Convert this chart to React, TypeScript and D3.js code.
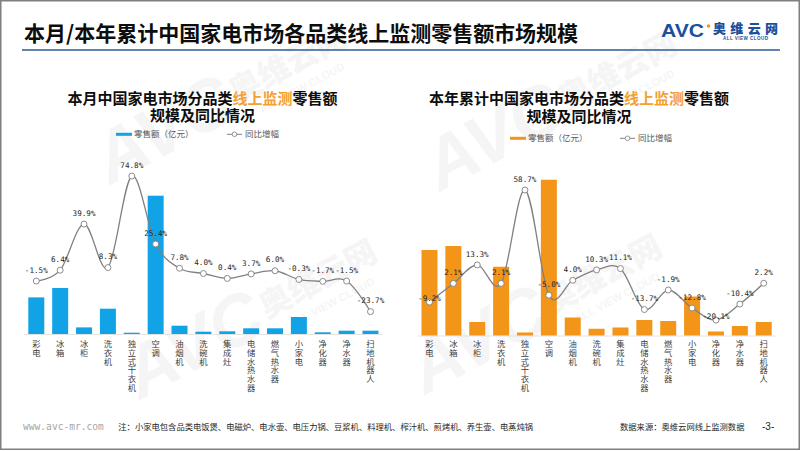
import React from 'react';
import * as d3 from 'd3';

const categories = ['彩电', '冰箱', '冰柜', '洗衣机', '独立式干衣机', '空调', '油烟机', '洗碗机', '集成灶', '电储水热水器', '燃气热水器', '小家电', '净化器', '净水器', '扫地机器人'];
// 本月零售额（亿元）
const monthSales = [36.6, 46.0, 6.6, 25.3, 1.3, 138.3, 8.3, 2.3, 2.7, 5.7, 5.7, 17.0, 1.7, 3.3, 3.3];
// 本月同比增幅（%）
const monthYoY = [-1.5, 6.4, 39.9, 8.3, 74.8, 25.4, 7.8, 4.0, 0.4, 3.7, 6.0, -0.3, -1.7, -1.5, -23.7];
// 本年累计零售额（亿元）
const yearSales = [342, 358, 54, 275, 12, 623, 72, 27, 32, 62, 58, 156, 16, 38, 54];
// 本年累计同比增幅（%）
const yearYoY = [-9.2, 2.1, 13.3, 2.1, 58.7, -5.0, 4.0, 10.3, 11.1, -13.7, -1.9, -12.8, -20.1, -10.4, 2.2];

const CJK = '"Noto Sans CJK SC", "Noto Sans", sans-serif';
const MONO = '"DejaVu Sans Mono", monospace';

type ChartCfg = {
  titlePre: string;
  titleHi: string;
  titlePost: string;
  title2: string;
  titleX: number;
  title1Y: number;
  title2Y: number;
  legendX: number;
  legendLineX: number;
  legendY: number;
  bandRange: [number, number];
  baseline: number;
  salesMax: number;
  salesPx: number;
  yoyDomain: [number, number];
  yoyRange: [number, number];
  color: string;
  sales: number[];
  yoy: number[];
  labelLift: Record<number, number>;
};

function Chart({ cfg }: { cfg: ChartCfg }) {
  const x = d3.scaleBand<string>().domain(categories).range(cfg.bandRange).paddingInner(0.33).paddingOuter(0.165);
  const yBar = d3.scaleLinear().domain([0, cfg.salesMax]).range([cfg.baseline, cfg.baseline - cfg.salesPx]);
  const yLine = d3.scaleLinear().domain(cfg.yoyDomain).range(cfg.yoyRange);
  const cx = (c: string) => (x(c) as number) + x.bandwidth() / 2;
  const pts: [number, number][] = categories.map((c, i) => [cx(c), yLine(cfg.yoy[i])]);
  const line = d3.line().curve(d3.curveCardinal.tension(0))(pts) || '';
  const lineColor = '#808080';
  return (
    <g>
      <text x={cfg.titleX} y={cfg.title1Y} textAnchor="middle" fontFamily={CJK} fontWeight={700} fontSize={15} fill="#0d0d0d">
        {cfg.titlePre}
        <tspan fill="#f5a033">{cfg.titleHi}</tspan>
        {cfg.titlePost}
      </text>
      <text x={cfg.titleX} y={cfg.title2Y} textAnchor="middle" fontFamily={CJK} fontWeight={700} fontSize={15} fill="#0d0d0d">
        {cfg.title2}
      </text>
      {/* legend */}
      <rect x={cfg.legendX} y={cfg.legendY - 1.5} width={16} height={3} fill={cfg.color} />
      <text x={cfg.legendX + 18} y={cfg.legendY + 3} fontFamily={CJK} fontSize={8.5} fill="#595959">零售额（亿元）</text>
      <line x1={cfg.legendLineX} x2={cfg.legendLineX + 15} y1={cfg.legendY} y2={cfg.legendY} stroke={lineColor} strokeWidth={1} />
      <circle cx={cfg.legendLineX + 7.5} cy={cfg.legendY} r={2.3} fill="#fff" stroke={lineColor} strokeWidth={0.8} />
      <text x={cfg.legendLineX + 18} y={cfg.legendY + 3} fontFamily={CJK} fontSize={8.5} fill="#595959">同比增幅</text>
      {/* axis line */}
      <line x1={cfg.bandRange[0]} x2={cfg.bandRange[1]} y1={cfg.baseline + 0.5} y2={cfg.baseline + 0.5} stroke="#e3e3e3" strokeWidth={1} />
      {/* bars */}
      {categories.map((c, i) => (
        <rect key={c} x={x(c)} width={x.bandwidth()} y={yBar(cfg.sales[i])} height={cfg.baseline - yBar(cfg.sales[i])} fill={cfg.color} />
      ))}
      {/* line */}
      <path d={line} fill="none" stroke={lineColor} strokeWidth={1.3} />
      {pts.map((p, i) => (
        <circle key={i} cx={p[0]} cy={p[1]} r={3} fill="#fff" stroke={lineColor} strokeWidth={0.9} />
      ))}
      {pts.map((p, i) => (
        <text key={'l' + i} x={p[0]} y={p[1] - (cfg.labelLift[i] ?? 8.3)} textAnchor="middle" fontFamily={MONO} fontSize={7.6} fill="#262626">
          {cfg.yoy[i].toFixed(1) + '%'}
        </text>
      ))}
      {/* category labels, vertical */}
      {categories.map((c) =>
        Array.from(c).map((ch, k) => (
          <text key={'c' + c + k} x={cx(c)} y={347.3 + k * 8.7} textAnchor="middle" fontFamily={CJK} fontSize={8.3} fill="#404040">
            {ch}
          </text>
        ))
      )}
    </g>
  );
}

function Watermark({ x, y }: { x: number; y: number }) {
  return (
    <g transform={`translate(${x},${y}) rotate(-28)`} opacity={0.05} fill="#555">
      <text x={0} y={0} fontFamily='"Liberation Sans", sans-serif' fontWeight={900} fontSize={72} fontStyle="italic">AVC</text>
      <text x={150} y={-12} fontFamily={CJK} fontWeight={900} fontSize={32}>奥维云网</text>
      <text x={168} y={8} fontFamily='"Liberation Sans", sans-serif' fontWeight={700} fontSize={11}>ALL VIEW CLOUD</text>
    </g>
  );
}

const leftCfg: ChartCfg = {
  titlePre: '本月中国家电市场分品类',
  titleHi: '线上监测',
  titlePost: '零售额',
  title2: '规模及同比情况',
  titleX: 202.5,
  title1Y: 104,
  title2Y: 120.5,
  legendX: 116,
  legendLineX: 227,
  legendY: 134.3,
  bandRange: [24.36, 382.44],
  baseline: 334,
  salesMax: 150,
  salesPx: 150,
  yoyDomain: [-30, 80],
  yoyRange: [320.3, 168.9],
  color: '#12a3e6',
  sales: monthSales,
  yoy: monthYoY,
  labelLift: {},
};

const rightCfg: ChartCfg = {
  titlePre: '本年累计中国家电市场分品类',
  titleHi: '线上监测',
  titlePost: '零售额',
  title2: '规模及同比情况',
  titleX: 579,
  title1Y: 104,
  title2Y: 122,
  legendX: 510,
  legendLineX: 620,
  legendY: 138.3,
  bandRange: [417.56, 775.64],
  baseline: 335.5,
  salesMax: 650,
  salesPx: 162.5,
  yoyDomain: [-30, 60],
  yoyRange: [336.4, 187.9],
  color: '#f29519',
  sales: yearSales,
  yoy: yearYoY,
  labelLift: { 0: 1, 12: 0.8 },
};

export default function App() {
  return (
    <svg width={802} height={451} style={{ position: 'absolute', left: 0, top: 0, background: '#fff' }} xmlns="http://www.w3.org/2000/svg">
      <rect x={0} y={0} width={802} height={451} fill="#fff" />
      <Watermark x={140} y={400} />
      <Watermark x={425} y={395} />
      <Watermark x={110} y={185} />
      <Watermark x={440} y={192} />
      <rect x={0.75} y={0.75} width={798.5} height={448.5} fill="none" stroke="#7f7f7f" strokeWidth={1.5} />
      {/* header */}
      <text x={24} y={41} fontFamily={CJK} fontWeight={700} fontSize={21} fill="#0d0d0d">本月/本年累计中国家电市场各品类线上监测零售额市场规模</text>
      <line x1={22} x2={780} y1={50} y2={50} stroke="#2e5a94" strokeWidth={1.5} />
      {/* logo */}
      <text x={661} y={37} fontFamily='"Liberation Sans", sans-serif' fontWeight={900} fontSize={19} fill="#1c4f9c" textLength={43} lengthAdjust="spacingAndGlyphs">AVC</text>
      <circle cx={708.5} cy={26} r={1.8} fill="#f39800" />
      <text x={713} y={33} fontFamily={CJK} fontWeight={900} fontSize={13} fill="#1c4f9c" textLength={65} lengthAdjust="spacing">奥维云网</text>
      <text x={723} y={39.8} fontFamily='"Liberation Sans", sans-serif' fontWeight={700} fontSize={4.6} fill="#1c4f9c" textLength={45} lengthAdjust="spacing">ALL VIEW CLOUD</text>
      <Chart cfg={leftCfg} />
      <Chart cfg={rightCfg} />
      {/* footer */}
      <text x={23} y={429.5} fontFamily={MONO} fontSize={9.6} fill="#a6a6a6">www.avc-mr.com</text>
      <text x={118.3} y={429.5} fontFamily={CJK} fontSize={8.3} fill="#262626">注：小家电包含品类电饭煲、电磁炉、电水壶、电压力锅、豆浆机、料理机、榨汁机、煎烤机、养生壶、电蒸炖锅</text>
      <text x={620} y={429.5} fontFamily={CJK} fontSize={8.3} fill="#262626">数据来源：奥维云网线上监测数据</text>
      <text x={762} y={430} fontFamily='"Liberation Sans", sans-serif' fontSize={10} fill="#262626">-3-</text>
    </svg>
  );
}
